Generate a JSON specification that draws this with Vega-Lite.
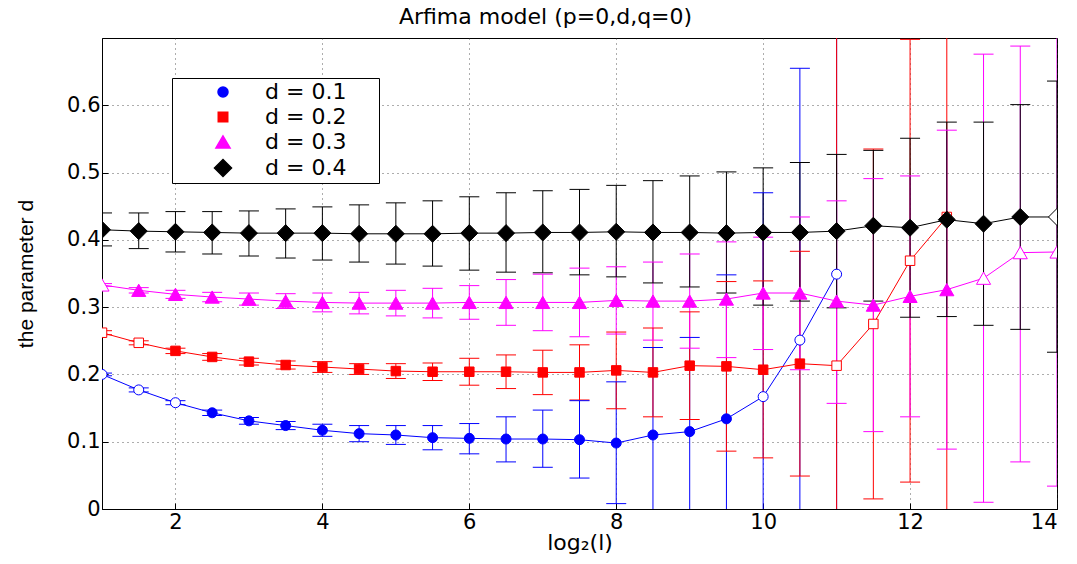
{
  "$schema": "https://vega.github.io/schema/vega-lite/v6.json",
  "width": 955,
  "height": 471,
  "autosize": {"type": "none"},
  "padding": {"left": 102, "top": 38, "right": 20, "bottom": 55},
  "background": "white",
  "title": {"text": "Arfima model (p=0,d,q=0)", "font": "DejaVu Sans", "fontSize": 22, "fontWeight": "normal", "color": "black", "offset": 9, "dx": -34},
  "config": {
    "view": {"stroke": "black", "strokeWidth": 1},
    "axis": {
      "domainColor": "black", "tickColor": "black", "labelColor": "black", "titleColor": "black",
      "grid": true, "gridColor": "#333", "gridDash": [1, 4], "gridWidth": 1, "gridOpacity": 0.8,
      "labelFont": "DejaVu Sans", "labelFontSize": 21, "titleFontWeight": "normal", "tickSize": -6
    }
  },
  "data": {"values": [
    {"series": "d = 0.1", "x": 1, "y": 0.200, "lo": 0.198, "hi": 0.202, "open": true},
    {"series": "d = 0.1", "x": 1.5, "y": 0.177, "lo": 0.174, "hi": 0.180, "open": true},
    {"series": "d = 0.1", "x": 2, "y": 0.158, "lo": 0.155, "hi": 0.161, "open": true},
    {"series": "d = 0.1", "x": 2.5, "y": 0.143, "lo": 0.139, "hi": 0.147, "open": false},
    {"series": "d = 0.1", "x": 3, "y": 0.131, "lo": 0.126, "hi": 0.136, "open": false},
    {"series": "d = 0.1", "x": 3.5, "y": 0.124, "lo": 0.118, "hi": 0.130, "open": false},
    {"series": "d = 0.1", "x": 4, "y": 0.117, "lo": 0.108, "hi": 0.126, "open": false},
    {"series": "d = 0.1", "x": 4.5, "y": 0.112, "lo": 0.100, "hi": 0.124, "open": false},
    {"series": "d = 0.1", "x": 5, "y": 0.110, "lo": 0.096, "hi": 0.124, "open": false},
    {"series": "d = 0.1", "x": 5.5, "y": 0.106, "lo": 0.088, "hi": 0.124, "open": false},
    {"series": "d = 0.1", "x": 6, "y": 0.105, "lo": 0.082, "hi": 0.127, "open": false},
    {"series": "d = 0.1", "x": 6.5, "y": 0.104, "lo": 0.070, "hi": 0.137, "open": false},
    {"series": "d = 0.1", "x": 7, "y": 0.104, "lo": 0.062, "hi": 0.147, "open": false},
    {"series": "d = 0.1", "x": 7.5, "y": 0.103, "lo": 0.046, "hi": 0.161, "open": false},
    {"series": "d = 0.1", "x": 8, "y": 0.098, "lo": 0.008, "hi": 0.189, "open": false},
    {"series": "d = 0.1", "x": 8.5, "y": 0.110, "lo": -0.020, "hi": 0.240, "open": false},
    {"series": "d = 0.1", "x": 9, "y": 0.115, "lo": -0.025, "hi": 0.255, "open": false},
    {"series": "d = 0.1", "x": 9.5, "y": 0.134, "lo": -0.080, "hi": 0.348, "open": false},
    {"series": "d = 0.1", "x": 10, "y": 0.167, "lo": -0.136, "hi": 0.470, "open": true},
    {"series": "d = 0.1", "x": 10.5, "y": 0.251, "lo": -0.153, "hi": 0.655, "open": true},
    {"series": "d = 0.1", "x": 11, "y": 0.349, "lo": -0.200, "hi": 0.900, "open": true},

    {"series": "d = 0.2", "x": 1, "y": 0.262, "lo": 0.259, "hi": 0.265, "open": true},
    {"series": "d = 0.2", "x": 1.5, "y": 0.247, "lo": 0.244, "hi": 0.250, "open": true},
    {"series": "d = 0.2", "x": 2, "y": 0.235, "lo": 0.231, "hi": 0.239, "open": false},
    {"series": "d = 0.2", "x": 2.5, "y": 0.226, "lo": 0.221, "hi": 0.231, "open": false},
    {"series": "d = 0.2", "x": 3, "y": 0.219, "lo": 0.214, "hi": 0.224, "open": false},
    {"series": "d = 0.2", "x": 3.5, "y": 0.214, "lo": 0.208, "hi": 0.220, "open": false},
    {"series": "d = 0.2", "x": 4, "y": 0.211, "lo": 0.203, "hi": 0.219, "open": false},
    {"series": "d = 0.2", "x": 4.5, "y": 0.208, "lo": 0.200, "hi": 0.216, "open": false},
    {"series": "d = 0.2", "x": 5, "y": 0.205, "lo": 0.194, "hi": 0.216, "open": false},
    {"series": "d = 0.2", "x": 5.5, "y": 0.204, "lo": 0.191, "hi": 0.217, "open": false},
    {"series": "d = 0.2", "x": 6, "y": 0.204, "lo": 0.184, "hi": 0.224, "open": false},
    {"series": "d = 0.2", "x": 6.5, "y": 0.204, "lo": 0.179, "hi": 0.229, "open": false},
    {"series": "d = 0.2", "x": 7, "y": 0.203, "lo": 0.170, "hi": 0.236, "open": false},
    {"series": "d = 0.2", "x": 7.5, "y": 0.203, "lo": 0.162, "hi": 0.244, "open": false},
    {"series": "d = 0.2", "x": 8, "y": 0.206, "lo": 0.149, "hi": 0.263, "open": false},
    {"series": "d = 0.2", "x": 8.5, "y": 0.203, "lo": 0.137, "hi": 0.269, "open": false},
    {"series": "d = 0.2", "x": 9, "y": 0.213, "lo": 0.133, "hi": 0.293, "open": false},
    {"series": "d = 0.2", "x": 9.5, "y": 0.212, "lo": 0.086, "hi": 0.338, "open": false},
    {"series": "d = 0.2", "x": 10, "y": 0.207, "lo": 0.076, "hi": 0.339, "open": false},
    {"series": "d = 0.2", "x": 10.5, "y": 0.216, "lo": 0.049, "hi": 0.383, "open": false},
    {"series": "d = 0.2", "x": 11, "y": 0.213, "lo": -0.300, "hi": 0.730, "open": true},
    {"series": "d = 0.2", "x": 11.5, "y": 0.275, "lo": 0.015, "hi": 0.535, "open": true},
    {"series": "d = 0.2", "x": 12, "y": 0.369, "lo": 0.040, "hi": 0.698, "open": true},
    {"series": "d = 0.2", "x": 12.5, "y": 0.434, "lo": -0.070, "hi": 0.940, "open": true},

    {"series": "d = 0.3", "x": 1, "y": 0.333, "lo": 0.331, "hi": 0.335, "open": true},
    {"series": "d = 0.3", "x": 1.5, "y": 0.325, "lo": 0.321, "hi": 0.329, "open": false},
    {"series": "d = 0.3", "x": 2, "y": 0.319, "lo": 0.313, "hi": 0.325, "open": false},
    {"series": "d = 0.3", "x": 2.5, "y": 0.315, "lo": 0.308, "hi": 0.322, "open": false},
    {"series": "d = 0.3", "x": 3, "y": 0.312, "lo": 0.303, "hi": 0.321, "open": false},
    {"series": "d = 0.3", "x": 3.5, "y": 0.309, "lo": 0.298, "hi": 0.320, "open": false},
    {"series": "d = 0.3", "x": 4, "y": 0.307, "lo": 0.293, "hi": 0.321, "open": false},
    {"series": "d = 0.3", "x": 4.5, "y": 0.306, "lo": 0.290, "hi": 0.322, "open": false},
    {"series": "d = 0.3", "x": 5, "y": 0.306, "lo": 0.287, "hi": 0.325, "open": false},
    {"series": "d = 0.3", "x": 5.5, "y": 0.306, "lo": 0.284, "hi": 0.328, "open": false},
    {"series": "d = 0.3", "x": 6, "y": 0.307, "lo": 0.282, "hi": 0.332, "open": false},
    {"series": "d = 0.3", "x": 6.5, "y": 0.307, "lo": 0.273, "hi": 0.341, "open": false},
    {"series": "d = 0.3", "x": 7, "y": 0.307, "lo": 0.265, "hi": 0.349, "open": false},
    {"series": "d = 0.3", "x": 7.5, "y": 0.307, "lo": 0.256, "hi": 0.358, "open": false},
    {"series": "d = 0.3", "x": 8, "y": 0.310, "lo": 0.260, "hi": 0.360, "open": false},
    {"series": "d = 0.3", "x": 8.5, "y": 0.309, "lo": 0.251, "hi": 0.367, "open": false},
    {"series": "d = 0.3", "x": 9, "y": 0.309, "lo": 0.239, "hi": 0.379, "open": false},
    {"series": "d = 0.3", "x": 9.5, "y": 0.312, "lo": 0.225, "hi": 0.397, "open": false},
    {"series": "d = 0.3", "x": 10, "y": 0.321, "lo": 0.237, "hi": 0.404, "open": false},
    {"series": "d = 0.3", "x": 10.5, "y": 0.321, "lo": 0.207, "hi": 0.434, "open": false},
    {"series": "d = 0.3", "x": 11, "y": 0.309, "lo": 0.157, "hi": 0.458, "open": false},
    {"series": "d = 0.3", "x": 11.5, "y": 0.303, "lo": 0.115, "hi": 0.491, "open": false},
    {"series": "d = 0.3", "x": 12, "y": 0.316, "lo": 0.137, "hi": 0.495, "open": false},
    {"series": "d = 0.3", "x": 12.5, "y": 0.326, "lo": 0.089, "hi": 0.563, "open": false},
    {"series": "d = 0.3", "x": 13, "y": 0.343, "lo": 0.010, "hi": 0.676, "open": true},
    {"series": "d = 0.3", "x": 13.5, "y": 0.381, "lo": 0.070, "hi": 0.688, "open": true},
    {"series": "d = 0.3", "x": 14, "y": 0.382, "lo": 0.034, "hi": 0.730, "open": true},

    {"series": "d = 0.4", "x": 1, "y": 0.415, "lo": 0.391, "hi": 0.440, "open": false},
    {"series": "d = 0.4", "x": 1.5, "y": 0.413, "lo": 0.387, "hi": 0.440, "open": false},
    {"series": "d = 0.4", "x": 2, "y": 0.412, "lo": 0.382, "hi": 0.442, "open": false},
    {"series": "d = 0.4", "x": 2.5, "y": 0.411, "lo": 0.379, "hi": 0.442, "open": false},
    {"series": "d = 0.4", "x": 3, "y": 0.410, "lo": 0.376, "hi": 0.443, "open": false},
    {"series": "d = 0.4", "x": 3.5, "y": 0.410, "lo": 0.373, "hi": 0.446, "open": false},
    {"series": "d = 0.4", "x": 4, "y": 0.410, "lo": 0.370, "hi": 0.449, "open": false},
    {"series": "d = 0.4", "x": 4.5, "y": 0.409, "lo": 0.367, "hi": 0.452, "open": false},
    {"series": "d = 0.4", "x": 5, "y": 0.409, "lo": 0.364, "hi": 0.455, "open": false},
    {"series": "d = 0.4", "x": 5.5, "y": 0.409, "lo": 0.361, "hi": 0.458, "open": false},
    {"series": "d = 0.4", "x": 6, "y": 0.410, "lo": 0.355, "hi": 0.464, "open": false},
    {"series": "d = 0.4", "x": 6.5, "y": 0.410, "lo": 0.352, "hi": 0.470, "open": false},
    {"series": "d = 0.4", "x": 7, "y": 0.411, "lo": 0.351, "hi": 0.473, "open": false},
    {"series": "d = 0.4", "x": 7.5, "y": 0.411, "lo": 0.348, "hi": 0.475, "open": false},
    {"series": "d = 0.4", "x": 8, "y": 0.412, "lo": 0.345, "hi": 0.481, "open": false},
    {"series": "d = 0.4", "x": 8.5, "y": 0.411, "lo": 0.336, "hi": 0.488, "open": false},
    {"series": "d = 0.4", "x": 9, "y": 0.411, "lo": 0.330, "hi": 0.495, "open": false},
    {"series": "d = 0.4", "x": 9.5, "y": 0.410, "lo": 0.321, "hi": 0.501, "open": false},
    {"series": "d = 0.4", "x": 10, "y": 0.411, "lo": 0.303, "hi": 0.507, "open": false},
    {"series": "d = 0.4", "x": 10.5, "y": 0.411, "lo": 0.309, "hi": 0.515, "open": false},
    {"series": "d = 0.4", "x": 11, "y": 0.413, "lo": 0.299, "hi": 0.527, "open": false},
    {"series": "d = 0.4", "x": 11.5, "y": 0.421, "lo": 0.309, "hi": 0.533, "open": false},
    {"series": "d = 0.4", "x": 12, "y": 0.418, "lo": 0.285, "hi": 0.551, "open": false},
    {"series": "d = 0.4", "x": 12.5, "y": 0.430, "lo": 0.286, "hi": 0.575, "open": false},
    {"series": "d = 0.4", "x": 13, "y": 0.424, "lo": 0.273, "hi": 0.575, "open": false},
    {"series": "d = 0.4", "x": 13.5, "y": 0.434, "lo": 0.267, "hi": 0.601, "open": false},
    {"series": "d = 0.4", "x": 14, "y": 0.434, "lo": 0.233, "hi": 0.636, "open": true}
  ]},
  "encoding": {
    "x": {
      "field": "x", "type": "quantitative",
      "scale": {"domain": [1, 14], "nice": false, "zero": false},
      "axis": {"values": [2, 4, 6, 8, 10, 12, 14], "title": "log₂(l)", "titleFont": "DejaVu Sans", "titleFontSize": 22, "labelPadding": 8, "titlePadding": 0}
    }
  },
  "layer": [
    {
      "mark": {"type": "line", "strokeWidth": 1, "clip": true},
      "encoding": {
        "y": {
          "field": "y", "type": "quantitative",
          "scale": {"domain": [0, 0.7], "nice": false},
          "axis": {"values": [0, 0.1, 0.2, 0.3, 0.4, 0.5, 0.6], "labelExpr": "datum.value == 0 ? '0' : format(datum.value, '.1f')", "title": "the parameter d", "titleFont": "Liberation Sans", "titleFontSize": 21, "labelPadding": 8, "titlePadding": 30}
        },
        "color": {"field": "series", "type": "nominal", "scale": {"range": ["#0000ff", "#ff0000", "#ff00ff", "#000000"]}, "legend": null}
      }
    },
    {
      "mark": {"type": "rule", "strokeWidth": 1, "clip": true},
      "encoding": {
        "y": {"field": "lo", "type": "quantitative"},
        "y2": {"field": "hi"},
        "color": {"field": "series", "type": "nominal", "legend": null}
      }
    },
    {
      "mark": {"type": "tick", "orient": "horizontal", "size": 20, "thickness": 1, "clip": true, "opacity": 1},
      "encoding": {
        "y": {"field": "lo", "type": "quantitative"},
        "color": {"field": "series", "type": "nominal", "legend": null}
      }
    },
    {
      "mark": {"type": "tick", "orient": "horizontal", "size": 20, "thickness": 1, "clip": true, "opacity": 1},
      "encoding": {
        "y": {"field": "hi", "type": "quantitative"},
        "color": {"field": "series", "type": "nominal", "legend": null}
      }
    },
    {
      "mark": {"type": "point", "filled": true, "opacity": 1, "fillOpacity": 1, "strokeWidth": 1, "clip": true},
      "encoding": {
        "y": {"field": "y", "type": "quantitative"},
        "fill": {
          "condition": {"test": "datum.open", "value": "white"},
          "field": "series", "type": "nominal",
          "scale": {"domain": ["d = 0.1", "d = 0.2", "d = 0.3", "d = 0.4"], "range": ["#0000ff", "#ff0000", "#ff00ff", "#000000"]}
        },
        "stroke": {"field": "series", "type": "nominal", "scale": {"domain": ["d = 0.1", "d = 0.2", "d = 0.3", "d = 0.4"], "range": ["#0000ff", "#ff0000", "#ff00ff", "#000000"]}},
        "shape": {"field": "series", "type": "nominal",
          "scale": {"domain": ["d = 0.1", "d = 0.2", "d = 0.3", "d = 0.4"], "range": ["circle", "square", "triangle-up", "diamond"]},
          "legend": {
            "orient": "none", "legendX": 70, "legendY": 40,
            "title": " ", "titleOrient": "right", "titlePadding": 30, "titleFontSize": 20,
            "strokeColor": "black", "fillColor": "white", "padding": 3,
            "labelFont": "DejaVu Sans", "labelFontSize": 22, "labelColor": "black",
            "symbolOffset": 37, "labelOffset": 31, "rowPadding": 3
          }},
        "size": {"field": "series", "type": "nominal", "scale": {"type": "ordinal", "domain": ["d = 0.1", "d = 0.2", "d = 0.3", "d = 0.4"], "range": [100, 90, 200, 290]}}
      }
    }
  ]
}
